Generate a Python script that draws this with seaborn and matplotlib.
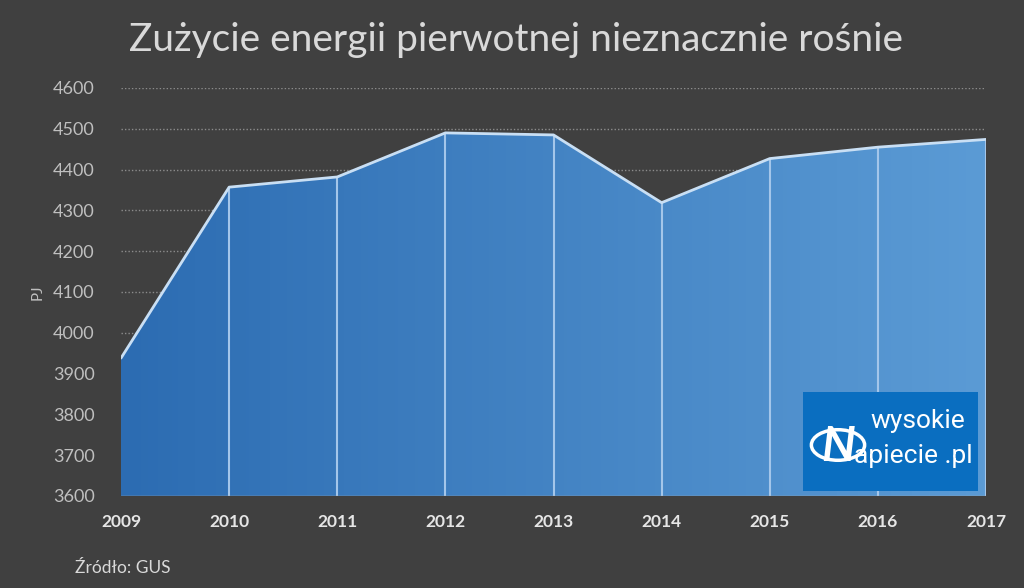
import numpy as np
import pandas as pd
import seaborn as sns
import matplotlib.pyplot as plt
from matplotlib.colors import LinearSegmentedColormap
from matplotlib.patches import Rectangle, Circle

years = [2009, 2010, 2011, 2012, 2013, 2014, 2015, 2016, 2017]
pj = [3938, 4357, 4382, 4490, 4485, 4319, 4427, 4455, 4474]
yticks = [3600, 3700, 3800, 3900, 4000, 4100, 4200, 4300, 4400, 4500, 4600]

df = pd.DataFrame({'rok': years, 'PJ': pj})

bg = '#404040'
sns.set_theme(style='dark')
plt.rcParams['font.family'] = ['Lato', 'DejaVu Sans']

fig = plt.figure(figsize=(10.24, 5.88), dpi=100, facecolor=bg)
ax = fig.add_axes([121/1024, 92/588, 865/1024, 408/588])
ax.set_facecolor(bg)

# gradient fill under the curve
poly = ax.fill_between(df['rok'], 3600, df['PJ'], color='none', lw=0)
cmap = LinearSegmentedColormap.from_list('bl', ['#2C6CB2', '#5B9BD5'])
grad = np.linspace(0, 1, 256).reshape(1, -1)
im = ax.imshow(grad, cmap=cmap, aspect='auto', extent=[2009, 2017, 3600, 4600], zorder=1)
im.set_clip_path(poly.get_paths()[0], transform=ax.transData)

ax.vlines(df['rok'][1:], 3600, df['PJ'][1:], color='#A4C6EA', lw=1.5, zorder=2)
sns.lineplot(data=df, x='rok', y='PJ', ax=ax, color='#C9DFF4', lw=2, zorder=3)

ax.set_xlim(2009, 2017)
ax.set_ylim(3600, 4600)
ax.set_yticks(yticks)
ax.set_xticks(years)
ax.set_xticklabels([str(y) for y in years], fontsize=12.5, fontweight='bold', color='#E6E6E6')
ax.set_yticklabels([str(y) for y in yticks], fontsize=13, color='#BFBFBF')
ax.tick_params(axis='y', length=0, pad=19)
ax.tick_params(axis='x', length=0, pad=13)
for y in yticks[1:]:
    ax.axhline(y, color='#8C8C8C', lw=1, ls=(0, (1, 1.5)), zorder=0)
ax.axhline(3600, color='#A6A6A6', lw=1, zorder=4)
for s in ax.spines.values():
    s.set_visible(False)
ax.grid(False)
ax.set_xlabel('')
ax.set_ylabel('PJ', fontsize=11, color='#BFBFBF', labelpad=6)

fig.text(0.504, 0.932, 'Zużycie energii pierwotnej nieznacznie rośnie', ha='center', va='center',
         fontsize=28, color='#D9D9D9', fontweight='normal')
fig.text(75/1024, 1 - 568/588, 'Źródło: GUS', ha='left', va='center', fontsize=12.5, color='#D9D9D9')

# logo
fig.patches.append(Rectangle((803/1024, 1 - 491/588), 175/1024, 99/588, transform=fig.transFigure,
                             facecolor='#0A6EC0', edgecolor='none', zorder=5))
fig.patches.append(Circle((838/1024, 1 - 445/588), 0.026, transform=fig.transFigure,
                          facecolor='none', edgecolor='white', lw=2.5, zorder=6))
fig.text(838/1024, 1 - 447/588, 'N', ha='center', va='center', fontsize=34, fontweight='bold',
         style='italic', color='white', zorder=7)
fig.text(918/1024, 1 - 421/588, 'wysokie', ha='center', va='center', fontsize=19, color='white',
         family=['Roboto', 'DejaVu Sans'], zorder=7)
fig.text(913/1024, 1 - 456/588, 'apiecie .pl', ha='center', va='center', fontsize=19, color='white',
         family=['Roboto', 'DejaVu Sans'], zorder=7)

fig.savefig('out.png', dpi=100, facecolor=bg)
